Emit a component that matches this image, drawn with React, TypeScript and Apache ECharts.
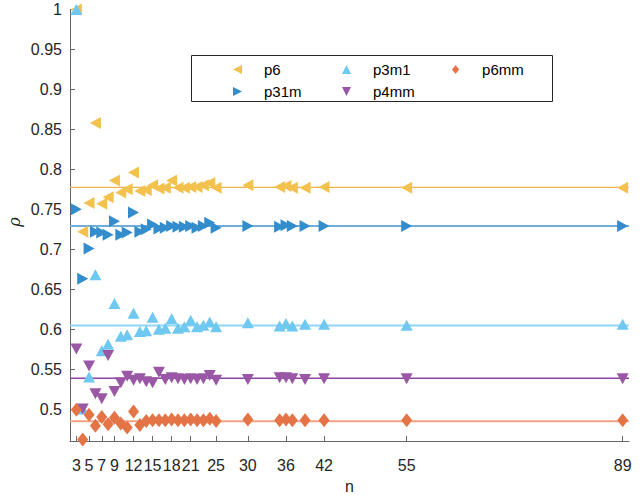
import React, { useEffect, useRef } from 'react';
import * as echarts from 'echarts';

const nValues = [3, 4, 5, 6, 7, 8, 9, 10, 11, 12, 13, 14, 15, 16, 17, 18, 19, 20, 21, 22, 23, 24, 25, 30, 35, 36, 37, 39, 42, 55, 89];

const p6 = [1.0, 0.722, 0.758, 0.858, 0.757, 0.765, 0.786, 0.771, 0.775, 0.796, 0.773, 0.774, 0.78, 0.776, 0.777, 0.786, 0.777, 0.777, 0.778, 0.778, 0.78, 0.783, 0.777, 0.78, 0.778, 0.779, 0.777, 0.777, 0.778, 0.777, 0.777];
const p31m = [0.75, 0.663, 0.701, 0.722, 0.721, 0.718, 0.735, 0.718, 0.721, 0.746, 0.722, 0.725, 0.731, 0.726, 0.727, 0.729, 0.728, 0.728, 0.729, 0.727, 0.729, 0.733, 0.727, 0.729, 0.728, 0.73, 0.729, 0.729, 0.729, 0.729, 0.729];
const p3m1 = [1.0, 0.5, 0.54, 0.668, 0.573, 0.581, 0.632, 0.591, 0.593, 0.62, 0.597, 0.598, 0.615, 0.6, 0.601, 0.613, 0.601, 0.603, 0.611, 0.603, 0.605, 0.609, 0.603, 0.608, 0.604, 0.607, 0.604, 0.606, 0.606, 0.605, 0.606];
const p4mm = [0.575, 0.5, 0.554, 0.519, 0.513, 0.567, 0.522, 0.533, 0.541, 0.536, 0.538, 0.534, 0.533, 0.546, 0.537, 0.539, 0.538, 0.537, 0.538, 0.537, 0.538, 0.542, 0.536, 0.537, 0.539, 0.539, 0.538, 0.537, 0.538, 0.538, 0.538];
const p6mm = [0.499, 0.462, 0.493, 0.479, 0.49, 0.481, 0.489, 0.482, 0.477, 0.497, 0.48, 0.485, 0.486, 0.486, 0.486, 0.487, 0.486, 0.486, 0.487, 0.486, 0.486, 0.488, 0.485, 0.487, 0.486, 0.487, 0.486, 0.486, 0.486, 0.486, 0.486];

const seriesNames = ['p6', 'p31m', 'p3m1', 'p4mm', 'p6mm'];
const seriesValues = [p6, p31m, p3m1, p4mm, p6mm];
const limitLevels = [0.7775, 0.729, 0.6045, 0.5385, 0.4847];

const xTicks = [3, 5, 7, 9, 12, 15, 18, 21, 25, 30, 36, 42, 55, 89];
const yTicks = [0.5, 0.55, 0.6, 0.65, 0.7, 0.75, 0.8, 0.85, 0.9, 0.95, 1];
const xRange = [2, 90];
const yRange = [0.46, 1];

const markerColors = ['#F2C14E', '#338DCD', '#6EC8F0', '#9A57A6', '#E47346'];
const lineColors = ['#EDB44E', '#6FAEDB', '#8ED6F5', '#8E44A6', '#F2A283'];
const lineWidths = [1.3, 2, 2, 1.6, 2];
const symbols = ['triangle', 'triangle', 'triangle', 'triangle', 'diamond'];
const rotations = [90, -90, 0, 180, 0];
const sizes: number[][] = [[12, 11], [12, 11], [12, 11], [12, 11], [11, 14]];
const legendIcons = [
  'path://M0,5L10,0L10,10Z',
  'path://M0,0L10,5L0,10Z',
  'path://M5,0L10,10L0,10Z',
  'path://M0,0L10,0L5,10Z',
  'path://M4,0L8,5L4,10L0,5Z',
];
const legendColumns = [['p6', 'p31m'], ['p3m1', 'p4mm'], ['p6mm']];
const legendLefts = [233, 342, 452];

const FONT = '"Liberation Sans", Arial, Helvetica, sans-serif';

export default function App() {
  const ref = useRef<HTMLDivElement>(null);
  useEffect(() => {
    if (!ref.current) return;
    const chart = echarts.init(ref.current, undefined, { renderer: 'svg' });
    const lineSeries = seriesNames.map((name, i) => ({
      name: name + '-ref',
      type: 'line',
      data: [[xRange[0], limitLevels[i]], [xRange[1], limitLevels[i]]],
      symbol: 'none',
      silent: true,
      lineStyle: { color: lineColors[i], width: lineWidths[i] },
      z: 1,
    }));
    const scatterSeries = seriesNames.map((name, i) => ({
      name,
      type: 'scatter',
      data: nValues.map((n, k) => [n, seriesValues[i][k]]),
      symbol: symbols[i],
      symbolRotate: rotations[i],
      symbolSize: sizes[i],
      itemStyle: { color: markerColors[i], opacity: 1 },
      z: 2 + i,
    }));
    const legends = legendColumns.map((col, c) => ({
      orient: 'vertical',
      left: legendLefts[c],
      top: 62,
      itemWidth: 9,
      itemHeight: 9,
      itemGap: 7,
      padding: 0,
      selectedMode: false,
      symbolRotate: 0,
      textStyle: { fontSize: 15, color: '#000', fontFamily: FONT, padding: [0, 0, 0, 17] },
      data: col.map((name) => {
        const i = seriesNames.indexOf(name);
        return { name, icon: legendIcons[i] };
      }),
    }));
    chart.setOption({
      animation: false,
      backgroundColor: '#fff',
      grid: { left: 70, top: 9.5, width: 559, height: 441 },
      xAxis: {
        type: 'value',
        min: xRange[0],
        max: xRange[1],
        name: 'n',
        nameLocation: 'middle',
        nameGap: 37,
        nameTextStyle: { fontSize: 16, color: '#262626', fontFamily: FONT },
        axisLine: { show: true, lineStyle: { color: '#666', width: 1 } },
        axisTick: { show: true, inside: true, length: 5, customValues: xTicks, lineStyle: { color: '#666' } },
        axisLabel: { customValues: xTicks, fontSize: 16, color: '#262626', fontFamily: FONT, margin: 16 },
        splitLine: { show: false },
      },
      yAxis: {
        type: 'value',
        min: yRange[0],
        max: yRange[1],
        axisLine: { show: true, lineStyle: { color: '#666', width: 1 } },
        axisTick: { show: true, inside: true, length: 5, customValues: yTicks, lineStyle: { color: '#666' } },
        axisLabel: { customValues: yTicks, fontSize: 16, color: '#262626', fontFamily: FONT, margin: 8 },
        splitLine: { show: false },
      },
      legend: legends,
      graphic: [
        {
          type: 'rect',
          z: 0,
          shape: { x: 191.5, y: 55.5, width: 361, height: 46 },
          style: { fill: '#fff', stroke: '#262626', lineWidth: 1 },
        },
        {
          type: 'text',
          x: 14,
          y: 222,
          rotation: Math.PI / 2,
          style: { text: 'ρ', font: 'italic 16px "DejaVu Serif", serif', fill: '#262626', align: 'center', verticalAlign: 'middle' },
        },
      ],
      series: [...lineSeries, ...scatterSeries],
    });
    return () => chart.dispose();
  }, []);
  return <div ref={ref} style={{ position: 'absolute', left: 0, top: 0, width: 644, height: 499 }} />;
}
